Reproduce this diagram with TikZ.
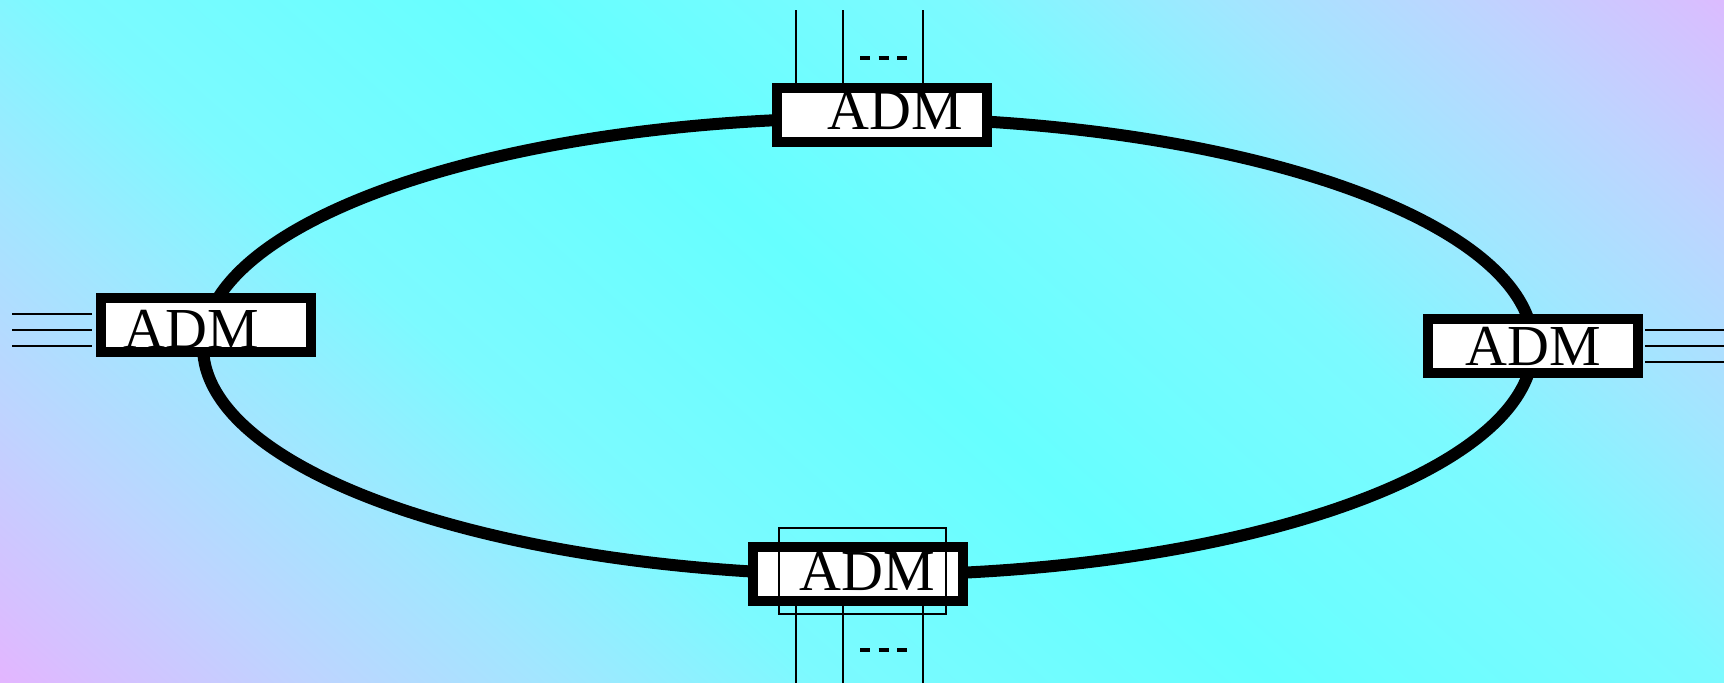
\documentclass[tikz,border=0pt]{standalone}
\usepackage{fontspec}
\setmainfont{Liberation Serif}
\definecolor{bgViolet}{HTML}{EAB0FF}
\definecolor{bgLilac}{HTML}{D6C0FF}
\definecolor{bgBlue}{HTML}{BED4FF}
\definecolor{bgSky}{HTML}{A2E6FF}
\definecolor{bgAqua}{HTML}{7CFAFF}
\definecolor{bgCyan}{HTML}{66FFFF}
\pgfdeclareverticalshading{ringbg}{100bp}{color(0bp)=(bgViolet); color(28bp)=(bgViolet);
  color(30.5bp)=(bgLilac); color(34bp)=(bgBlue); color(38bp)=(bgSky); color(42.5bp)=(bgAqua);
  color(50bp)=(bgCyan); color(57.5bp)=(bgAqua); color(62bp)=(bgSky); color(66bp)=(bgBlue);
  color(69.5bp)=(bgLilac); color(72bp)=(bgViolet); color(100bp)=(bgViolet)}
\begin{document}
\begin{tikzpicture}[x=0.5pt, y=0.5pt,
    adm/.style={draw, line width=5pt, fill=white, minimum width=105pt, minimum height=27pt, inner sep=0pt},
    admtext/.style={font=\fontsize{29}{32}\selectfont, inner sep=0pt},
    ring/.style={line width=6pt},
    wire/.style={line width=1pt},
    gapdash/.style={line width=2pt, dash pattern=on 5pt off 4.25pt}]
          \useasboundingbox (0,0) rectangle (1724,682);
          \begin{scope}
            \clip (0,0) rectangle (1724,682);
            \shade[shading=ringbg, shading angle=-41.5] (-68,-696.5) rectangle (1932,1303.5);
          \end{scope}

          \draw[ring] (868,335.5) ellipse [x radius=665, y radius=228.5];

          \node[adm, label={[admtext, xshift=6.5pt, yshift=2.25pt]center:ADM}] (admN) at (882,567) {};
          \node[adm, label={[admtext, xshift=-7pt, yshift=-2pt]center:ADM}] (admW) at (205.5,357) {};
          \node[adm, label={[admtext]center:ADM}] (admE) at (1533,336) {};
          \node[adm, label={[admtext, xshift=5pt, yshift=1.25pt]center:ADM}] (admS) at (857.5,108.5) {};

          \foreach \d in {-86,-39,41}
            \draw[wire] ([shift={(\d,0)}]admN.north) -- ++(0,73);
          \foreach \d in {-61.5,-14.5,65.5}
            \draw[wire] ([shift={(\d,0)}]admS.south) -- ++(0,-77);
          \foreach \d in {11,-5,-21}
            \draw[wire] ([shift={(-4,\d)}]admW.west) -- ++(-80,0);
          \foreach \d in {16,0,-16}
            \draw[wire] ([shift={(2,\d)}]admE.east) -- ++(79,0);

          \draw[line width=0.7pt] ([shift={(-78.5,-40.5)}]admS.center) rectangle ([shift={(88.5,45.5)}]admS.center);

          \draw[gapdash] (860,624) -- (907,624);
          \draw[gapdash] (860,32) -- (907,32);

      \end{tikzpicture}
\end{document}
